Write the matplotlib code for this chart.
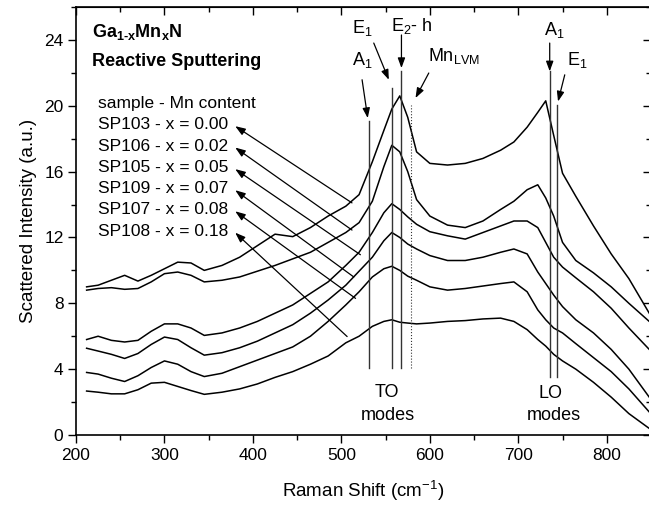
"""Raman spectra of Ga1-xMnxN films grown by reactive sputtering."""

import matplotlib

matplotlib.use("Agg")
import matplotlib.pyplot as plt
from matplotlib.ticker import MultipleLocator

plt.rcParams["font.family"] = ["Liberation Sans", "DejaVu Sans"]
plt.rcParams["mathtext.fontset"] = "custom"
plt.rcParams["mathtext.rm"] = "Liberation Sans"
plt.rcParams["mathtext.it"] = "Liberation Sans"
plt.rcParams["mathtext.bf"] = "Liberation Sans:bold"
plt.rcParams["mathtext.default"] = "regular"

shift = [212, 225, 240, 255, 270, 285, 300, 315, 330, 345, 365, 385, 405, 425,
         445, 465, 485, 505, 520, 535, 548, 557, 566, 575, 585, 600, 620, 640,
         660, 680, 695, 710, 722, 731, 740, 750, 765, 785, 805, 825, 848]

sp103 = [9.0, 9.1, 9.4, 9.7, 9.35, 9.7, 10.1, 10.5, 10.45, 10.0, 10.3, 10.8,
         11.5, 12.2, 12.05, 12.6, 13.3, 13.9, 14.6, 16.6, 18.5, 19.8, 20.6,
         19.3, 17.2, 16.5, 16.4, 16.5, 16.8, 17.3, 17.8, 18.7, 19.6, 20.3,
         18.2, 15.9, 14.5, 12.7, 11.0, 9.5, 7.4]
sp106 = [8.8, 8.9, 8.95, 8.85, 8.9, 9.3, 9.8, 9.9, 9.7, 9.3, 9.4, 9.6, 9.95,
         10.3, 10.7, 11.1, 11.7, 12.3, 12.9, 14.2, 16.3, 17.6, 17.2, 16.0,
         14.3, 13.3, 12.75, 12.6, 13.0, 13.7, 14.2, 14.9, 15.2, 14.4, 13.3,
         11.7, 10.6, 9.85, 9.0, 8.0, 6.9]
sp105 = [5.8, 6.0, 5.75, 5.65, 5.75, 6.3, 6.75, 6.75, 6.5, 6.05, 6.2, 6.5, 6.9,
         7.4, 7.9, 8.6, 9.3, 10.3, 11.1, 12.3, 13.5, 14.05, 13.7, 13.25, 12.8,
         12.35, 12.1, 11.9, 12.3, 12.7, 13.0, 13.0, 12.6, 11.7, 10.8, 10.2,
         9.55, 8.7, 7.7, 6.5, 5.2]
sp109 = [5.27, 5.1, 4.9, 4.65, 4.95, 5.5, 5.95, 5.8, 5.3, 4.85, 5.0, 5.3, 5.7,
         6.2, 6.7, 7.4, 8.2, 9.1, 9.95, 10.8, 11.8, 12.3, 12.0, 11.6, 11.3,
         10.9, 10.6, 10.6, 10.8, 11.1, 11.3, 11.0, 9.9, 9.2, 8.5, 7.8, 7.0,
         6.2, 5.2, 4.0, 2.3]
sp107 = [3.8, 3.7, 3.45, 3.25, 3.6, 4.1, 4.5, 4.3, 3.85, 3.55, 3.75, 4.15,
         4.55, 4.95, 5.35, 6.0, 6.9, 7.9, 8.7, 9.6, 10.1, 10.25, 10.0, 9.65,
         9.4, 9.0, 8.8, 8.9, 9.05, 9.2, 9.3, 8.7, 7.6, 7.0, 6.5, 6.2, 5.55,
         4.7, 3.85, 2.8, 1.4]
sp108 = [2.67, 2.6, 2.5, 2.5, 2.75, 3.15, 3.2, 2.95, 2.7, 2.47, 2.6, 2.8, 3.1,
         3.5, 3.85, 4.3, 4.8, 5.6, 6.0, 6.6, 6.9, 7.0, 6.85, 6.8, 6.75, 6.8,
         6.9, 6.95, 7.05, 7.1, 6.9, 6.4, 5.8, 5.4, 4.9, 4.5, 4.0, 3.2, 2.3,
         1.3, 0.4]

spectra = [sp103, sp106, sp105, sp109, sp107, sp108]
samples = ["SP103 - x = 0.00", "SP106 - x = 0.02", "SP105 - x = 0.05",
           "SP109 - x = 0.07", "SP107 - x = 0.08", "SP108 - x = 0.18"]
# where each label arrow touches its curve
arrow_tip = [(512, 14.1), (512, 12.45), (521.5, 10.95), (514, 9.6),
             (516, 8.3), (506.5, 5.98)]

# phonon modes: (position, top of marker line, bottom, dotted)
modes = [(531, 19.05, 4.05, False),
         (557.4, 21.07, 4.05, False),
         (567.6, 22.1, 4.05, False),
         (578.7, 20.06, 4.05, True),
         (735.7, 22.1, 3.55, False),
         (743.4, 20.06, 3.55, False)]

fig = plt.figure(figsize=(6.49, 5.05), dpi=100)
ax = fig.add_axes([76 / 649, 1 - 435 / 505, 575 / 649, 428 / 505])

for values in spectra:
    ax.plot(shift, values, color="black", lw=1.1)

for pos, top, bottom, dotted in modes:
    ax.plot([pos, pos], [bottom, top], color="#333333",
            lw=0.8 if dotted else 1.0, ls=":" if dotted else "-")

arrow = dict(arrowstyle="-|>,head_length=0.6,head_width=0.22",
             color="black", lw=0.9, shrinkA=0, shrinkB=0)

# mode labels with their little arrows
ax.annotate("", xy=(529.8, 19.25), xytext=(523.4, 21.58), arrowprops=arrow)
ax.text(512, 22.49, "A$_1$", fontsize=13)
ax.annotate("", xy=(553.6, 21.58), xytext=(536.6, 23.81), arrowprops=arrow)
ax.text(512, 24.42, "E$_1$", fontsize=13)
ax.annotate("", xy=(567.9, 22.29), xytext=(567.9, 24.3), arrowprops=arrow)
ax.text(556.3, 24.52, "E$_2$- h", fontsize=13)
ax.annotate("", xy=(583.8, 20.47), xytext=(598.8, 21.99), arrowprops=arrow)
ax.text(597.7, 22.69, "Mn$_{LVM}$", fontsize=13)
ax.annotate("", xy=(735.5, 22.09), xytext=(735.5, 23.81), arrowprops=arrow)
ax.text(729, 24.32, "A$_1$", fontsize=13)
ax.annotate("", xy=(744.9, 20.26), xytext=(752.5, 21.88), arrowprops=arrow)
ax.text(755.5, 22.49, "E$_1$", fontsize=13)

ax.text(551.7, 2.33, "TO", fontsize=13, ha="center")
ax.text(552.6, 0.91, "modes", fontsize=13, ha="center")
ax.text(736.6, 2.25, "LO", fontsize=13, ha="center")
ax.text(739.7, 0.91, "modes", fontsize=13, ha="center")

ax.text(217.8, 24.2, "Ga$_{\\mathbf{1\u2010x}}$Mn$_{\\mathbf{x}}$N",
        fontsize=13, fontweight="bold")
ax.text(217.8, 22.39, "Reactive Sputtering", fontsize=13, fontweight="bold")
ax.text(225.2, 19.88, "sample - Mn content", fontsize=12.5)

label_y = [18.58, 17.28, 15.97, 14.69, 13.41, 12.11]
for name, ly, tip in zip(samples, label_y, arrow_tip):
    ax.text(225.2, ly, name, fontsize=12.5)
    ax.annotate("", xy=(380, ly + 0.18), xytext=tip, arrowprops=arrow)

ax.set_xlim(200, 850)
ax.set_ylim(0, 26)
ax.xaxis.set_major_locator(MultipleLocator(100))
ax.xaxis.set_minor_locator(MultipleLocator(50))
ax.yaxis.set_major_locator(MultipleLocator(4))
ax.yaxis.set_minor_locator(MultipleLocator(2))
ax.tick_params(which="both", direction="out", top=False, right=False,
               labelsize=12.5, width=1.0, pad=3)
ax.tick_params(which="major", length=6)
ax.tick_params(which="minor", length=3.5)

# inward ticks on the top and right frame
top = ax.secondary_xaxis("top")
top.xaxis.set_major_locator(MultipleLocator(100))
top.xaxis.set_minor_locator(MultipleLocator(50))
top.tick_params(which="both", direction="in", labeltop=False, width=1.0)
top.tick_params(which="major", length=6)
top.tick_params(which="minor", length=3.5)
right = ax.secondary_yaxis("right")
right.yaxis.set_major_locator(MultipleLocator(4))
right.yaxis.set_minor_locator(MultipleLocator(2))
right.tick_params(which="both", direction="in", labelright=False, width=1.0)
right.tick_params(which="major", length=6)
right.tick_params(which="minor", length=3.5)

for spine in ax.spines.values():
    spine.set_linewidth(1.2)

ax.set_xlabel("Raman Shift (cm$^{-1}$)", fontsize=13.5, labelpad=12)
ax.set_ylabel("Scattered Intensity (a.u.)", fontsize=13.5, labelpad=5)

fig.savefig("out.png", dpi=100)
